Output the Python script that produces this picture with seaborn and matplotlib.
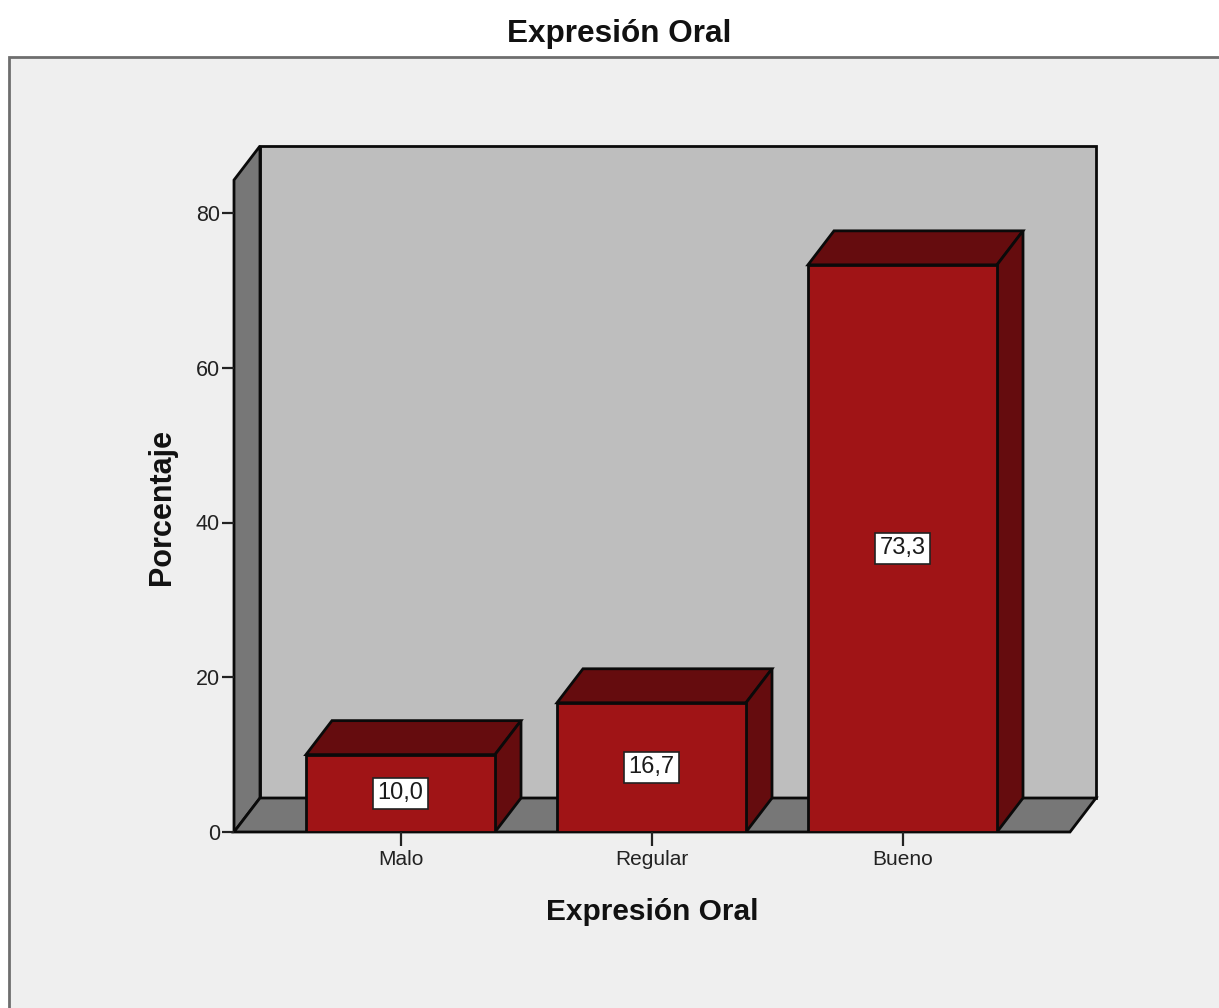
import pandas as pd
import matplotlib
matplotlib.use("Agg")
import matplotlib.pyplot as plt
from matplotlib.patches import Rectangle
import seaborn as sns

## datos
categorias = ["Malo", "Regular", "Bueno"]
porcentajes = [10.0, 16.7, 73.3]
etiquetas = ["10,0", "16,7", "73,3"]
y_ticks = [0, 20, 40, 60, 80]

df = pd.DataFrame({"categoria": categorias, "porcentaje": porcentajes})

W, H = 1219, 1008
sns.set_style("white")
plt.rcParams["font.family"] = ["Liberation Sans", "DejaVu Sans"]

fig = plt.figure(figsize=(W / 100, H / 100), dpi=100, facecolor="white")

# panel gris de fondo (abierto por abajo y a la derecha)
fig.add_artist(Rectangle((8.5 / W, -0.01), (W + 20) / W, (H - 57) / H + 0.01,
                         transform=fig.transFigure, fc="#EFEFEF", ec="#6E6E6E", lw=2, zorder=-1))

# ejes = cara frontal del grafico, en pixeles de la imagen
x0, x1, y_base, y_top = 234, 1070, 832, 180
ax = fig.add_axes([x0 / W, 1 - y_base / H, (x1 - x0) / W, (y_base - y_top) / H])
ax.patch.set_alpha(0)

rojo = "#A01416"
oscuro = "#650C0E"
sns.barplot(data=df, x="categoria", y="porcentaje", color=rojo, saturation=1,
            width=0.753, edgecolor="#0A0A0A", linewidth=2, ax=ax, zorder=5)

px_x = 251  # pixeles por categoria
px_y = 619 / 80  # pixeles por unidad
ax.set_xlim((x0 - 400.5) / px_x, (x1 - 400.5) / px_x)
ax.set_ylim(0, (y_base - y_top) / px_y)

dx = 26 / px_x  # profundidad
dy = 34 / px_y
xa, xb = ax.get_xlim()
ytop = ax.get_ylim()[1]

# paredes y suelo
linea = dict(edgecolor="#0A0A0A", linewidth=2, clip_on=False, joinstyle="miter")
ax.fill([xa + dx, xb + dx, xb + dx, xa + dx], [dy, dy, ytop + dy, ytop + dy],
        facecolor="#BEBEBE", zorder=1, **linea)
ax.fill([xa, xa + dx, xa + dx, xa], [0, dy, ytop + dy, ytop],
        facecolor="#777777", zorder=2, **linea)
ax.fill([xa, xb, xb + dx, xa + dx], [0, 0, dy, dy],
        facecolor="#777777", zorder=2, **linea)

# caras superior y lateral de cada barra, mas la etiqueta
for barra, etiqueta in zip(ax.patches, etiquetas):
    izq = barra.get_x()
    der = izq + barra.get_width()
    alto = barra.get_height()
    ax.fill([izq, der, der + dx, izq + dx], [alto, alto, alto + dy, alto + dy],
            facecolor=oscuro, zorder=4, **linea)
    ax.fill([der, der + dx, der + dx, der], [0, dy, alto + dy, alto],
            facecolor=oscuro, zorder=4, **linea)
    ax.text(izq + barra.get_width() / 2, alto / 2, etiqueta, ha="center", va="center",
            fontsize=17, color="#1A1A1A", zorder=7,
            bbox=dict(boxstyle="square,pad=0.2", fc="white", ec="#222222", lw=1.2))

for lado in ax.spines.values():
    lado.set_visible(False)

ax.set_yticks(y_ticks)
ax.set_yticklabels([str(t) for t in y_ticks])
ax.tick_params(axis="y", length=9, width=1.6, color="#222222", labelsize=15.5,
               labelcolor="#222222", pad=1, left=True)
ax.tick_params(axis="x", length=10, width=1.6, color="#222222", labelsize=15,
               labelcolor="#222222", pad=3, bottom=True)
ax.set_axisbelow(False)

ax.set_xlabel("Expresión Oral", fontsize=21.5, fontweight="bold", color="#111111")
ax.xaxis.set_label_coords((652 - x0) / (x1 - x0), (y_base - 912) / (y_base - y_top), transform=ax.transAxes)
ax.xaxis.label.set_verticalalignment("center")
ax.set_ylabel("Porcentaje", fontsize=22, fontweight="bold", color="#111111")
ax.yaxis.set_label_coords((162 - x0) / (x1 - x0), (y_base - 507) / (y_base - y_top), transform=ax.transAxes)
ax.yaxis.label.set_verticalalignment("center")

fig.text(619 / W, 1 - 34 / H, "Expresión Oral", ha="center", va="center",
         fontsize=22.7, fontweight="bold", color="#111111")

fig.savefig("out.png", dpi=100)
